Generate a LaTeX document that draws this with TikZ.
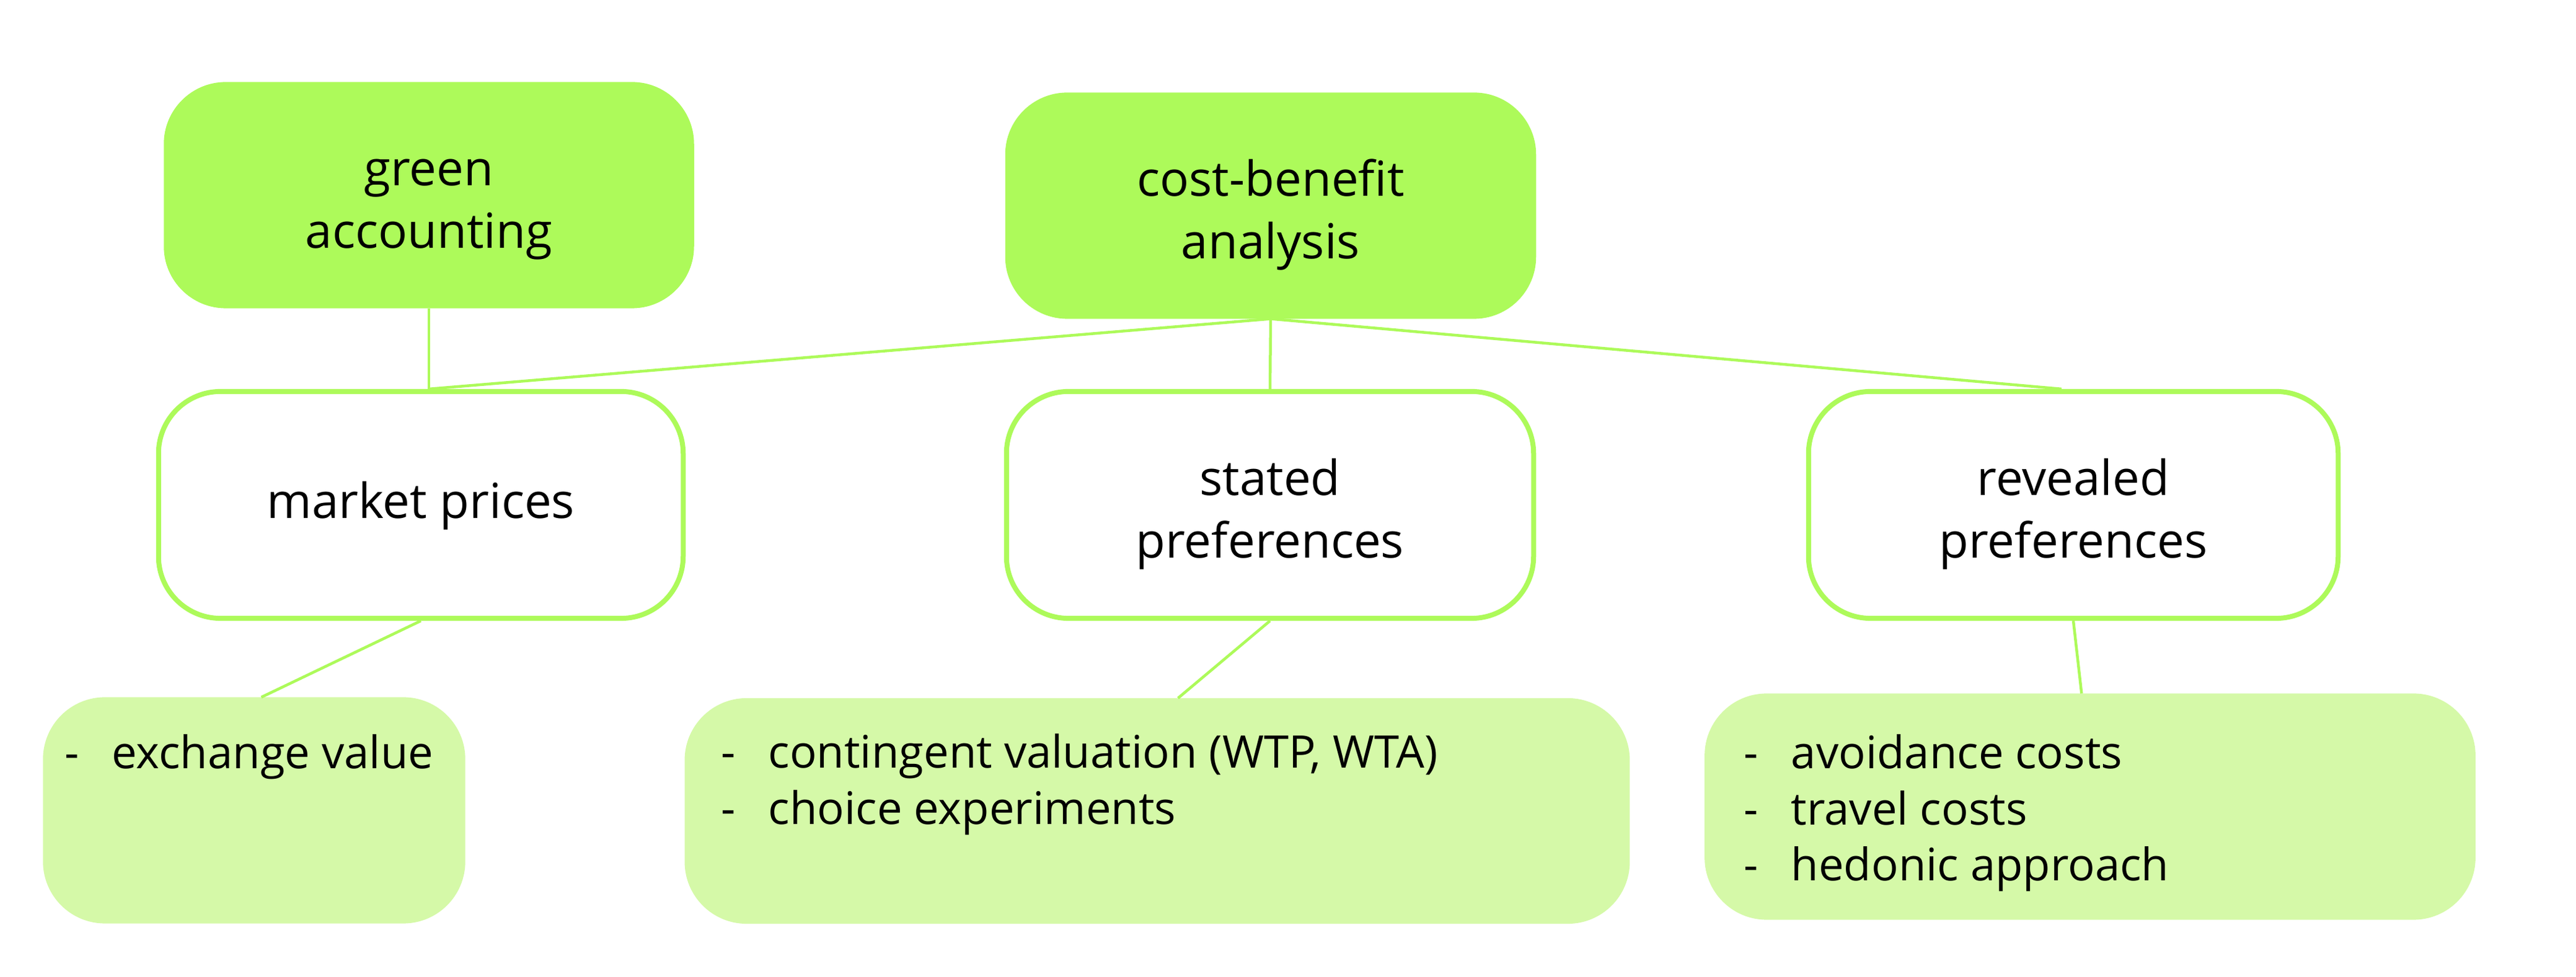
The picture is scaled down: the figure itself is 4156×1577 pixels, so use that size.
\documentclass[tikz,border=0pt]{standalone}
\usepackage{fontspec}
\setmainfont{Open Sans}
\usetikzlibrary{calc}
\definecolor{dgreen}{HTML}{ADFA5A}
\definecolor{lgreen}{HTML}{D5F9A8}
\newcommand{\topfont}{\fontsize{22.2pt}{28.45pt}\selectfont}
\newcommand{\listfont}{\fontsize{20.6pt}{25.6pt}\selectfont}
\newcommand{\li}{\makebox[0.76cm][l]{-}}
\tikzset{
  headbox/.style={rectangle, rounded corners=1cm, fill=dgreen, draw=none, inner sep=0pt, outer sep=0pt},
  midbox/.style={rectangle, rounded corners=1cm, fill=white, draw=dgreen, line width=0.08cm, inner sep=0pt},
  listbox/.style={rectangle, rounded corners=1cm, fill=lgreen, draw=none, inner sep=0pt, outer sep=0pt},
  toptext/.style={inner sep=0pt, anchor=base, font=\topfont, text=black},
  listtext/.style={inner sep=0pt, anchor=base west, font=\listfont, text=black},
  link/.style={draw=dgreen, line width=0.045cm}
}
\begin{document}
\begin{tikzpicture}[x=0.01cm, y=-0.01cm]
\useasboundingbox (0,0) rectangle (4156,1577);
% head boxes
\node[headbox, minimum width=8.55cm, minimum height=3.65cm] (gacc) at (692,315) {};
\node[headbox, minimum width=8.56cm, minimum height=3.65cm] (cba) at (2050,332) {};
% middle boxes
\node[midbox, minimum width=8.46cm, minimum height=3.66cm] (market) at (679,815) {};
\node[midbox, minimum width=8.5cm, minimum height=3.66cm] (stated) at (2049,815) {};
\node[midbox, minimum width=8.54cm, minimum height=3.66cm] (revealed) at (3345,815) {};
% list boxes
\node[listbox, minimum width=6.81cm, minimum height=3.65cm] (exch) at (410,1308) {};
\node[listbox, minimum width=15.24cm, minimum height=3.64cm] (svlist) at (1867,1309) {};
\node[listbox, minimum width=12.43cm, minimum height=3.65cm] (rvlist) at (3372,1302) {};
% texts
\node[toptext] (tgacc) at (692,300) {\begin{tabular}[t]{@{}c@{}}green\\accounting\end{tabular}};
\node[toptext] (tcba) at (2050,317) {\begin{tabular}[t]{@{}c@{}}cost-benefit\\analysis\end{tabular}};
\node[toptext] (tmarket) at (679,837) {market prices};
\node[toptext] (tstated) at (2049,800) {\begin{tabular}[t]{@{}c@{}}stated\\preferences\end{tabular}};
\node[toptext] (trevealed) at (3345,800) {\begin{tabular}[t]{@{}c@{}}revealed\\preferences\end{tabular}};
\node[listtext] (texch) at (104,1241) {\begin{tabular}[t]{@{}l@{}}\li exchange value\end{tabular}};
\node[listtext] (tsv) at (1163,1240) {\begin{tabular}[t]{@{}l@{}}\li contingent valuation (WTP, WTA)\\\li choice experiments\end{tabular}};
\node[listtext] (trv) at (2813,1241) {\begin{tabular}[t]{@{}l@{}}\li avoidance costs\\\li travel costs\\\li hedonic approach\end{tabular}};
% connectors
\coordinate (mtop) at (gacc.south |- market.north);
\draw[link] (gacc.south) -- (mtop);
\draw[link] (cba.south) -- (mtop);
\draw[link] (cba.south) -- (stated.north);
\draw[link] (cba.south) -- ($(revealed.north west)!0.478!(revealed.north east)$);
\draw[link] (market.south) -- ($(exch.north west)!0.517!(exch.north east)$);
\draw[link] (stated.south) -- ($(svlist.north west)!0.522!(svlist.north east)$);
\draw[link] (revealed.south) -- ($(rvlist.north west)!0.489!(rvlist.north east)$);
\end{tikzpicture}
\end{document}
